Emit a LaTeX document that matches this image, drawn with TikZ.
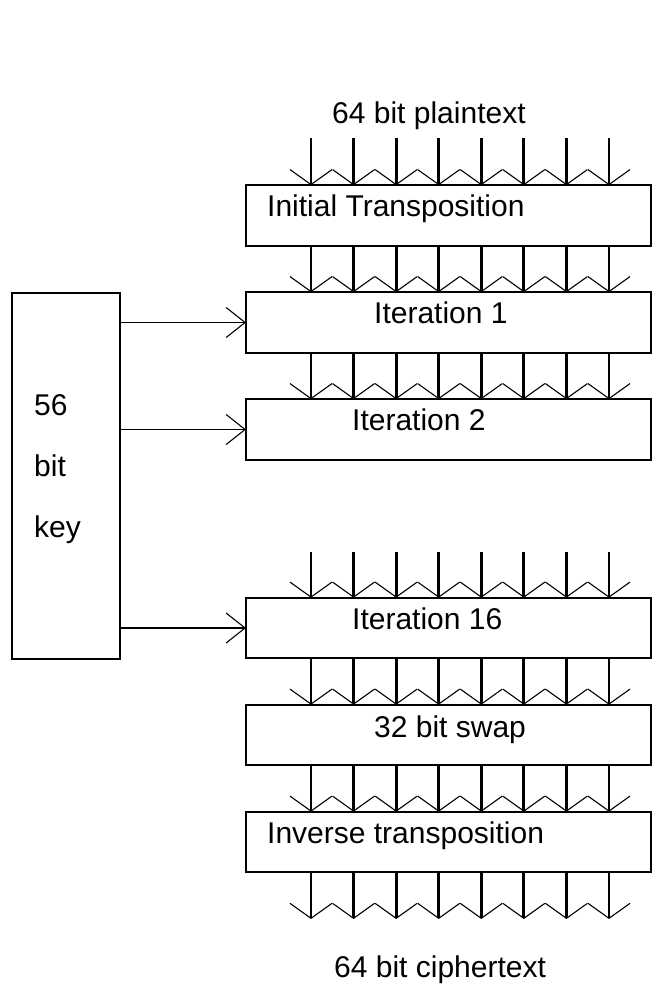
\documentclass[tikz,border=0pt]{standalone}
\usepackage{fontspec}
\setmainfont{Liberation Sans}
\usetikzlibrary{positioning,arrows.meta}

\begin{document}
\begin{tikzpicture}[x=1pt, y=-1pt,
  node distance=46.5pt,
  box/.style={draw, line width=2pt, outer sep=0pt, inner sep=0pt, minimum width=405pt, minimum height=60.5pt},
  txt/.style={font=\fontsize{30pt}{61pt}\selectfont, inner sep=0pt, anchor=base west},
  bus/.style={line width=2.8pt, -{Straight Barb[length=15pt, width=42pt, line width'=1.1pt]}},
  arr/.style={line width=1.8pt, -{Straight Barb[length=19pt, width=30pt, line width'=1.1pt]}}]
  \useasboundingbox (0,0) rectangle (652,986);
  % stages
  \node[box] (init) at (448.5,215.5) {};
  \node[box, below=of init] (it1) {};
  \node[box, below=of it1] (it2) {};
  \node[box, below=138pt of it2] (it16) {};
  \node[box, below=of it16] (swap) {};
  \node[box, below=of swap] (inv) {};
  \node[box, minimum width=108pt, minimum height=366pt, anchor=north west] (key) at (12,293) {};
  % texts
  \node[txt] (tplain) at (332,123) {64 bit plaintext};
  \node[txt] (tinit) at (267,216) {Initial Transposition};
  \node[txt] (tit1) at (374,323) {Iteration 1};
  \node[txt] (tit2) at (352,430) {Iteration 2};
  \node[txt] (tit16) at (352,629) {Iteration 16};
  \node[txt] (tswap) at (374,737) {32 bit swap};
  \node[txt] (tinv) at (267,843) {Inverse transposition};
  \node[txt] (tcipher) at (334,977) {64 bit ciphertext};
  \node[txt, align=left] (tkey) at (34,537) {56\\bit\\key};
  % 64 bit buses
  \coordinate (pin) at (246,138);
  \coordinate (gap) at (246,552);
  \coordinate (cout) at (246,919);
  \foreach \k in {0,...,7} {
    \draw[bus] ([xshift={65pt+\k*42.57pt}]pin) -- ([xshift={65pt+\k*42.57pt}]init.north west);
    \draw[bus] ([xshift={65pt+\k*42.57pt}]gap) -- ([xshift={65pt+\k*42.57pt}]it16.north west);
    \draw[bus] ([xshift={65pt+\k*42.57pt}]inv.south west) -- ([xshift={65pt+\k*42.57pt}]cout);
    \foreach \a/\b in {init/it1, it1/it2, it16/swap, swap/inv}
      \draw[bus] ([xshift={65pt+\k*42.57pt}]\a.south west) -- ([xshift={65pt+\k*42.57pt}]\b.north west);
  }
  % key feeds
  \draw[arr] (key.east |- it1.west) -- (it1.west);
  \draw[arr] (key.east |- it2.west) -- (it2.west);
  \draw[arr] (key.east |- it16.west) -- (it16.west);
\end{tikzpicture}
\end{document}
